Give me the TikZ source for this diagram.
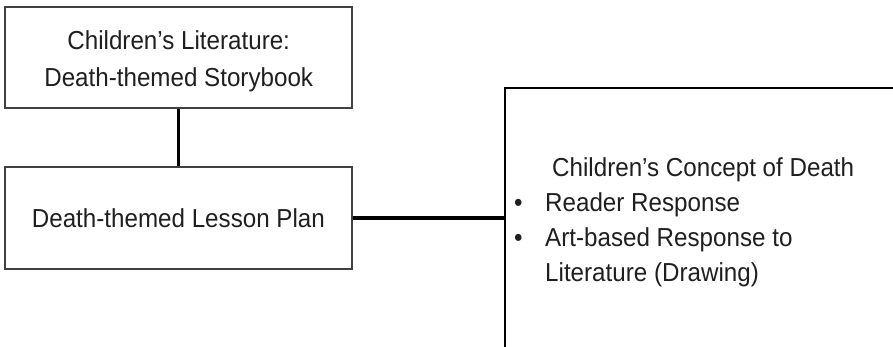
\documentclass[tikz,border=0pt]{standalone}
\usepackage{fontspec}
\setmainfont{Liberation Sans}[FakeStretch=0.93]
\begin{document}
\begin{tikzpicture}[x=1pt,y=-1pt,
  boxstyle/.style={draw=black!75,line width=1.6pt,rectangle,inner sep=0pt},
  conn/.style={draw=black,line width=3.6pt},
  txt/.style={inner sep=0pt,text=black!88,font=\fontsize{26}{31}\selectfont}]
\useasboundingbox[fill=white] (0,0) rectangle (893,346);
\clip (0,0) rectangle (893,346);
% boxes
\node[boxstyle,minimum width=347pt,minimum height=101pt] (box1) at (178.5,57.5) {};
\node[boxstyle,minimum width=347pt,minimum height=102pt] (box2) at (178.5,218) {};
\node[boxstyle,draw=black,line width=1.8pt,anchor=north west,minimum width=520pt,minimum height=320pt] (box3) at (504,87) {};
% texts
\node[txt,anchor=base] (l1) at (178.7,49.3) {Children’s Literature:};
\node[txt,anchor=base] (l2) at (178.7,86) {Death-themed Storybook};
\node[txt,anchor=base] (l3) at (178.4,227.5) {Death-themed Lesson Plan};
\node[txt,anchor=base west] (r1) at (552,176) {Children’s Concept of Death};
\node[txt,anchor=base west] (b1) at (514,211.5) {•};
\node[txt,anchor=base west] (r2) at (545,211.5) {Reader Response};
\node[txt,anchor=base west] (b2) at (514,246.5) {•};
\node[txt,anchor=base west] (r3) at (545,246.5) {Art-based Response to};
\node[txt,anchor=base west] (r4) at (545,281.5) {Literature (Drawing)};
% connectors
\draw[conn] (box1.south) -- (box2.north);
\draw[conn] (box2.east) -- (box2.east -| box3.west);
\end{tikzpicture}
\end{document}
